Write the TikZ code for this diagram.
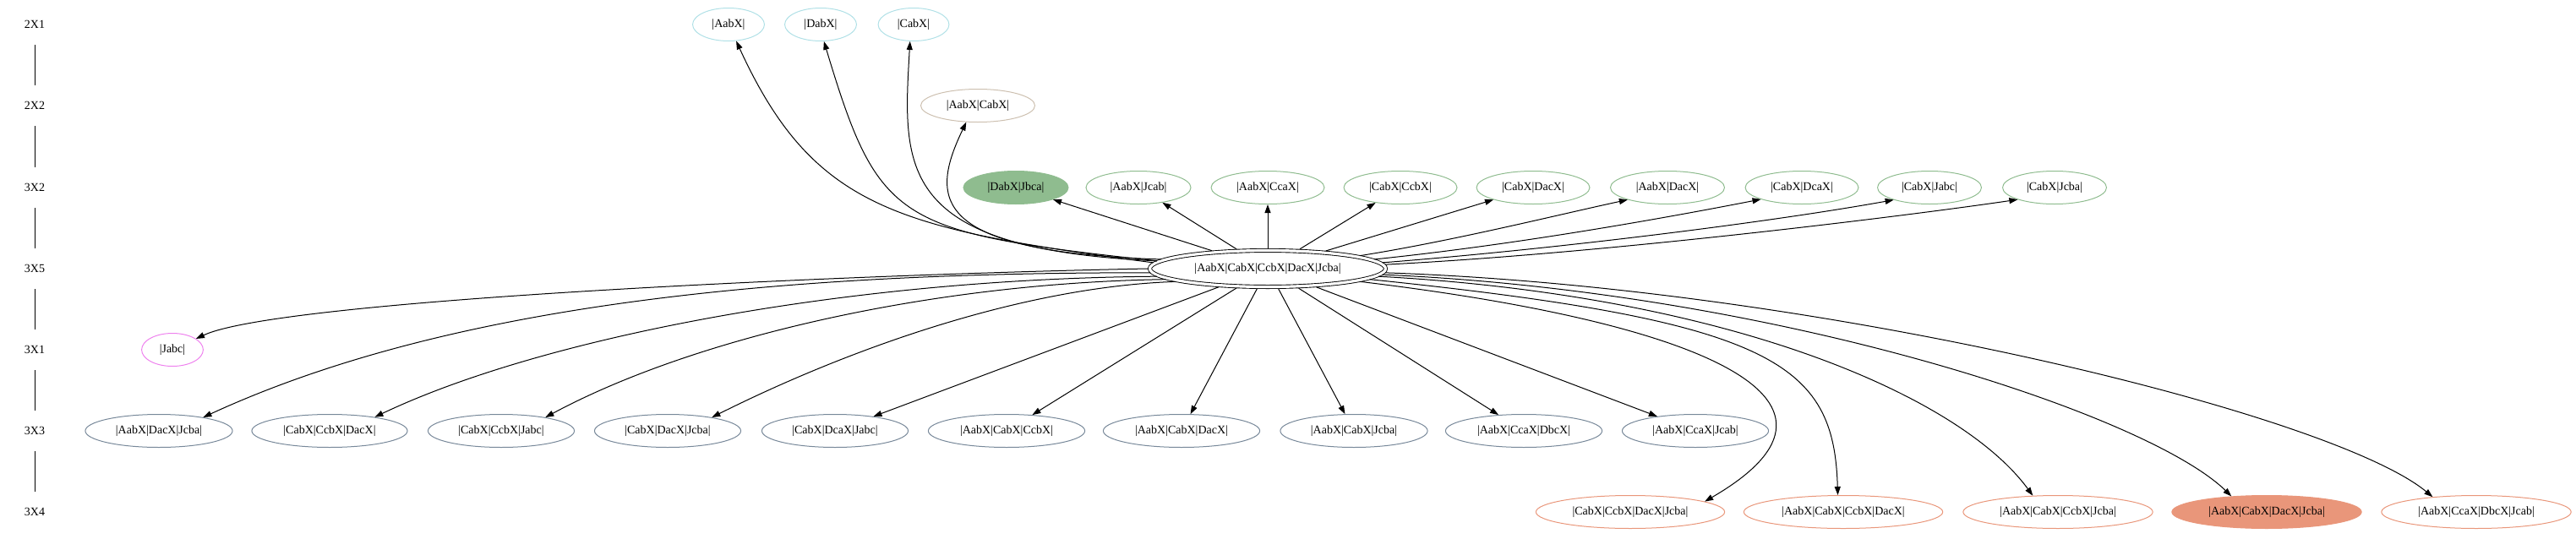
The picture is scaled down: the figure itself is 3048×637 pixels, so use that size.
\documentclass[tikz,border=0pt]{standalone}
\usepackage{fontspec}
\setmainfont{Liberation Serif}
\usetikzlibrary{arrows.meta,shapes.geometric}
\definecolor{cyanx}{RGB}{176,224,230}
\definecolor{tanx}{RGB}{205,192,176}
\definecolor{greenx}{RGB}{143,188,143}
\definecolor{violetx}{RGB}{238,130,238}
\definecolor{slatex}{RGB}{119,136,153}
\definecolor{salmonx}{RGB}{233,150,122}
\begin{document}
\begin{tikzpicture}[x=1pt,y=-1pt,
  every node/.style={font=\fontsize{14pt}{16pt}\selectfont},
  st/.style={ellipse, draw, line width=1pt, inner xsep=10.5pt, inner ysep=2pt, minimum height=39pt},
  ra/.style={st, draw=cyanx},
  rb/.style={st, draw=tanx},
  rc/.style={st, draw=greenx},
  rcf/.style={st, draw=greenx, fill=greenx},
  rj/.style={st, draw=violetx},
  rd/.style={st, draw=slatex},
  re/.style={st, draw=salmonx},
  ref/.style={st, draw=salmonx, fill=salmonx},
  hub/.style={ellipse, draw, line width=0.9pt, double, double distance=3.2pt, minimum width=279pt, minimum height=43pt, outer sep=2.5pt},
  lab/.style={inner sep=0pt, minimum height=48pt},
  rl/.style={line width=1pt},
  ed/.style={line width=1pt, -{Triangle[length=10pt,width=7pt]}},
]
\useasboundingbox (0,0) rectangle (3048,637);
% rank labels
\node[lab] (l1) at (41,29) {2X1};
\node[lab] (l2) at (41,125) {2X2};
\node[lab] (l3) at (41,222) {3X2};
\node[lab] (l4) at (41,318) {3X5};
\node[lab] (l5) at (41,414) {3X1};
\node[lab] (l6) at (41,510) {3X3};
\node[lab] (l7) at (41,606) {3X4};
\draw[rl] (l1.south) -- (l2.north);
\draw[rl] (l2.south) -- (l3.north);
\draw[rl] (l3.south) -- (l4.north);
\draw[rl] (l4.south) -- (l5.north);
\draw[rl] (l5.south) -- (l6.north);
\draw[rl] (l6.south) -- (l7.north);
% nodes
\node[ra] (a1) at (862,29) {|AabX|};
\node[ra] (a2) at (971,29) {|DabX|};
\node[ra] (a3) at (1081,29) {|CabX|};
\node[rb] (b1) at (1157,125) {|AabX|CabX|};
\node[rcf] (c1) at (1202,222) {|DabX|Jbca|};
\node[rc] (c2) at (1347,222) {|AabX|Jcab|};
\node[rc] (c3) at (1500,222) {|AabX|CcaX|};
\node[rc] (c4) at (1657,222) {|CabX|CcbX|};
\node[rc] (c5) at (1814,222) {|CabX|DacX|};
\node[rc] (c6) at (1973,222) {|AabX|DacX|};
\node[rc] (c7) at (2132,222) {|CabX|DcaX|};
\node[rc] (c8) at (2283,222) {|CabX|Jabc|};
\node[rc] (c9) at (2431,222) {|CabX|Jcba|};
\node[hub] (m) at (1500,318) {|AabX|CabX|CcbX|DacX|Jcba|};
\node[rj] (j) at (204,414) {|Jabc|};
\node[rd] (d1) at (188,510) {|AabX|DacX|Jcba|};
\node[rd] (d2) at (390,510) {|CabX|CcbX|DacX|};
\node[rd] (d3) at (593,510) {|CabX|CcbX|Jabc|};
\node[rd] (d4) at (790,510) {|CabX|DacX|Jcba|};
\node[rd] (d5) at (988,510) {|CabX|DcaX|Jabc|};
\node[rd] (d6) at (1191,510) {|AabX|CabX|CcbX|};
\node[rd] (d7) at (1398,510) {|AabX|CabX|DacX|};
\node[rd] (d8) at (1602,510) {|AabX|CabX|Jcba|};
\node[rd] (d9) at (1803,510) {|AabX|CcaX|DbcX|};
\node[rd] (d10) at (2006,510) {|AabX|CcaX|Jcab|};
\node[re] (e1) at (1929,606) {|CabX|CcbX|DacX|Jcba|};
\node[re] (e2) at (2181,606) {|AabX|CabX|CcbX|DacX|};
\node[re] (e3) at (2435,606) {|AabX|CabX|CcbX|Jcba|};
\node[ref] (e4) at (2682,606) {|AabX|CabX|DacX|Jcba|};
\node[re] (e5) at (2930,606) {|AabX|CcaX|DbcX|Jcab|};
% edges up
\draw[ed] (m.177) .. controls (1064,271) and (963,249) .. (a1.295);
\draw[ed] (m.176) .. controls (1060,275) and (1040,265) .. (a2.281);
\draw[ed] (m.176) .. controls (1060,295) and (1068,200) .. (a3.258);
\draw[ed] (m.175) .. controls (1100,298) and (1100,235) .. (b1.235);
\draw[ed] (m) -- (c1);
\draw[ed] (m) -- (c2);
\draw[ed] (m) -- (c3);
\draw[ed] (m) -- (c4);
\draw[ed] (m) -- (c5);
\draw[ed] (m.8) .. controls (1720,285) and (1840,255) .. (c6.197);
\draw[ed] (m.5) .. controls (1790,290) and (1960,260) .. (c7.196);
\draw[ed] (m.3) .. controls (1850,294) and (2100,262) .. (c8.199);
\draw[ed] (m.2) .. controls (1900,300) and (2260,255) .. (c9.198);
% edges down
\draw[ed] (m.180) .. controls (1000,325) and (330,355) .. (j.25);
\draw[ed] (m.182) .. controls (900,322) and (520,365) .. (d1.17);
\draw[ed] (m.184) .. controls (1000,330) and (640,400) .. (d2.17);
\draw[ed] (m.186) .. controls (1100,335) and (820,400) .. (d3.17);
\draw[ed] (m.188) .. controls (1200,340) and (990,420) .. (d4.17);
\draw[ed] (m) -- (d5);
\draw[ed] (m) -- (d6);
\draw[ed] (m) -- (d7);
\draw[ed] (m) -- (d8);
\draw[ed] (m) -- (d9);
\draw[ed] (m) -- (d10);
\draw[ed] (m.352) .. controls (2000,380) and (2230,470) .. (e1.8);
\draw[ed] (m.354) .. controls (2100,380) and (2170,430) .. (e2.108);
\draw[ed] (m.356) .. controls (2050,350) and (2320,470) .. (e3.147);
\draw[ed] (m.357) .. controls (2100,345) and (2540,490) .. (e4.156);
\draw[ed] (m.358) .. controls (2150,340) and (2760,490) .. (e5.161);
\end{tikzpicture}
\end{document}
